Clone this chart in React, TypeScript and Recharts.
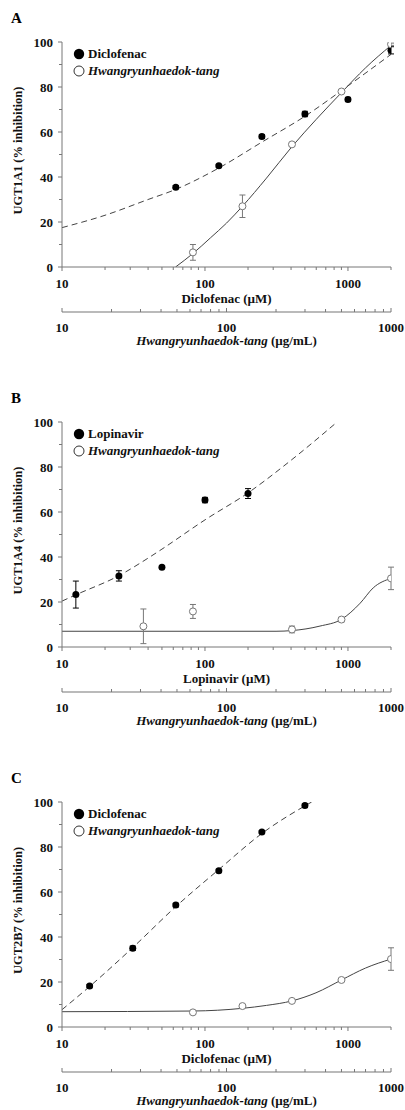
import React from "react";
import { ComposedChart, Line, Scatter, ErrorBar, XAxis, YAxis } from "recharts";

const SERIF = "'Liberation Serif', 'Times New Roman', serif";
const AXIS = "#777";
const HERB = "#777";
const CURVE = "#444";

const drugTicks = [10, 20, 30, 40, 50, 60, 70, 80, 90, 100, 200, 300, 400, 500, 600, 700, 800, 900, 1000, 2000];
const herbTicks = [10, 20, 30, 40, 50, 60, 70, 80, 90, 100, 200, 300, 400, 500, 600, 700, 800, 900, 1000];
const yTicks = [0, 10, 20, 30, 40, 50, 60, 70, 80, 90, 100];
const labelledX = [10, 100, 1000];
const labelledY = [0, 20, 40, 60, 80, 100];

// A: UGT1A1, diclofenac
const diclofenacA = [
  { x: 62.5, y: 35.5, err: 0.7 },
  { x: 125, y: 45, err: 0.6 },
  { x: 250, y: 58, err: 0.9 },
  { x: 500, y: 68, err: 1.2 },
  { x: 1000, y: 74.5, err: 0.9 },
  { x: 2000, y: 96.3, err: 1.6 },
];
const herbA = [
  { x: 62.5, y: 6.5, err: 3.5 },
  { x: 125, y: 27, err: 5 },
  { x: 250, y: 54.5, err: 0.5 },
  { x: 500, y: 78, err: 0.6 },
  { x: 1000, y: 99, err: 0.5 },
];
const diclofenacFitA = [
  { x: 10, y: 17.5 }, { x: 20, y: 23 }, { x: 40, y: 30 }, { x: 62.5, y: 34.5 },
  { x: 125, y: 44 }, { x: 250, y: 55.5 }, { x: 500, y: 67 }, { x: 1000, y: 80.5 }, { x: 2000, y: 94.5 },
];
const herbFitA = [
  { x: 49, y: 0 }, { x: 62.5, y: 6 }, { x: 80, y: 13 }, { x: 100, y: 19.5 }, { x: 125, y: 27 },
  { x: 175, y: 39.5 }, { x: 250, y: 53.5 }, { x: 350, y: 65.5 }, { x: 500, y: 77.5 },
  { x: 700, y: 88.5 }, { x: 1000, y: 98.5 },
];

// B: UGT1A4, lopinavir
const lopinavirB = [
  { x: 12.5, y: 23.3, err: 6 },
  { x: 25, y: 31.6, err: 2.3 },
  { x: 50, y: 35.4, err: 0.5 },
  { x: 100, y: 65.3, err: 1.2 },
  { x: 200, y: 68.2, err: 2.2 },
];
const herbB = [
  { x: 31.25, y: 9.2, err: 7.7 },
  { x: 62.5, y: 15.8, err: 3.1 },
  { x: 250, y: 7.8, err: 1.5 },
  { x: 500, y: 12.2, err: 1 },
  { x: 1000, y: 30.5, err: 5 },
];
const lopinavirFitB = [
  { x: 10, y: 20.4 }, { x: 12.5, y: 23.2 }, { x: 25, y: 31.7 }, { x: 40, y: 39.5 }, { x: 50, y: 43.5 },
  { x: 100, y: 56.5 }, { x: 200, y: 68.5 }, { x: 400, y: 83 }, { x: 840, y: 100 },
];
const herbFitB = [
  { x: 10, y: 7 }, { x: 200, y: 7 }, { x: 250, y: 7.3 }, { x: 370, y: 9.3 }, { x: 500, y: 12.3 },
  { x: 650, y: 19.5 }, { x: 780, y: 26.3 }, { x: 1000, y: 30.5 },
];

// C: UGT2B7, diclofenac
const diclofenacC = [
  { x: 15.6, y: 18.2, err: 0.7 },
  { x: 31.25, y: 35, err: 1 },
  { x: 62.5, y: 54.2, err: 0.8 },
  { x: 125, y: 69.5, err: 0.6 },
  { x: 250, y: 86.7, err: 0.6 },
  { x: 500, y: 98.4, err: 0.8 },
];
const herbC = [
  { x: 62.5, y: 6.5, err: 0.4 },
  { x: 125, y: 9.3, err: 0.5 },
  { x: 250, y: 11.6, err: 0.4 },
  { x: 500, y: 20.9, err: 0.5 },
  { x: 1000, y: 30.2, err: 5 },
];
const diclofenacFitC = [
  { x: 10, y: 7.7 }, { x: 15.6, y: 18 }, { x: 31.25, y: 35.3 }, { x: 62.5, y: 53.5 },
  { x: 125, y: 70 }, { x: 250, y: 86 }, { x: 557, y: 100 },
];
const herbFitC = [
  { x: 10, y: 6.8 }, { x: 62.5, y: 7.1 }, { x: 125, y: 8.3 }, { x: 175, y: 9.6 }, { x: 250, y: 11.6 },
  { x: 350, y: 15.2 }, { x: 500, y: 20.9 }, { x: 700, y: 26.2 }, { x: 1000, y: 30.2 },
];

const bold = { fontFamily: SERIF, fontWeight: 700, fill: "#111" } as const;

function DrugTick(p: any) {
  const v = p.payload.value;
  const major = labelledX.includes(v);
  return (
    <g>
      <line x1={p.x} x2={p.x} y1={p.y} y2={p.y + (major ? 4 : 3)} stroke={AXIS} />
      {major && (
        <text x={p.x} y={p.y + 21} textAnchor="middle" fontSize={13} {...bold}>
          {v}
        </text>
      )}
    </g>
  );
}

function HerbTick(p: any) {
  const v = p.payload.value;
  const major = labelledX.includes(v);
  return (
    <g>
      <line x1={p.x} x2={p.x} y1={p.y} y2={p.y - (major ? 4 : 3)} stroke={AXIS} />
      {major && (
        <text x={p.x} y={p.y + 20} textAnchor="middle" fontSize={13} {...bold}>
          {v}
        </text>
      )}
    </g>
  );
}

function YTick(p: any) {
  const v = p.payload.value;
  const major = labelledY.includes(v);
  return (
    <g>
      <line x1={p.x - (major ? 4 : 3)} x2={p.x} y1={p.y} y2={p.y} stroke={AXIS} />
      {major && (
        <text x={p.x - 9} y={p.y + 4.5} textAnchor="end" fontSize={13} {...bold}>
          {v}
        </text>
      )}
    </g>
  );
}

function DrugTitle(p: any) {
  const vb = p.viewBox;
  return (
    <text x={vb.x + vb.width / 2} y={vb.y + 36} textAnchor="middle" fontSize={13} {...bold}>
      {p.text}
    </text>
  );
}

function HerbTitle(p: any) {
  const vb = p.viewBox;
  return (
    <text x={vb.x + vb.width / 2} y={vb.y + 33} textAnchor="middle" fontSize={13} {...bold}>
      <tspan fontStyle="italic">Hwangryunhaedok-tang</tspan>
      <tspan>{" (µg/mL)"}</tspan>
    </text>
  );
}

function YTitle(p: any) {
  const vb = p.viewBox;
  const cx = vb.x + 8;
  const cy = vb.y + vb.height / 2 - 4;
  return (
    <text x={cx} y={cy} dy={4} textAnchor="middle" fontSize={12.5} transform={`rotate(-90, ${cx}, ${cy})`} {...bold}>
      {p.text}
    </text>
  );
}

const filledDot = (p: any) => <circle cx={p.cx} cy={p.cy} r={3.5} fill="#000" />;
const openDot = (p: any) => <circle cx={p.cx} cy={p.cy} r={3.5} fill="#fff" stroke={HERB} strokeWidth={1} />;

type Pt = { x: number; y: number; err?: number };

function Panel(props: {
  top: number;
  letter: string;
  drug: string;
  gene: string;
  drugPts: Pt[];
  herbPts: Pt[];
  drugFit: Pt[];
  herbFit: Pt[];
}) {
  const { top, letter, drug, gene, drugPts, herbPts, drugFit, herbFit } = props;
  return (
    <div style={{ position: "absolute", left: 0, top, width: 405, height: 350 }}>
      <ComposedChart width={405} height={350} margin={{ top: 42, right: 14, bottom: 0, left: 10 }}>
        <XAxis
          xAxisId="drug"
          dataKey="x"
          type="number"
          scale="log"
          domain={[10, 2000]}
          allowDataOverflow
          ticks={drugTicks}
          interval={0}
          tick={(p: any) => <DrugTick {...p} />}
          tickLine={false}
          tickSize={0}
          tickMargin={0}
          height={45}
          axisLine={{ stroke: AXIS }}
          label={<DrugTitle text={`${drug} (µM)`} />}
        />
        <XAxis
          xAxisId="herb"
          dataKey="x"
          type="number"
          scale="log"
          domain={[10, 1000]}
          allowDataOverflow
          ticks={herbTicks}
          interval={0}
          tick={(p: any) => <HerbTick {...p} />}
          tickLine={false}
          tickSize={0}
          tickMargin={0}
          height={38}
          axisLine={{ stroke: AXIS, strokeWidth: 1.2 }}
          label={<HerbTitle />}
        />
        <YAxis
          dataKey="y"
          type="number"
          domain={[0, 100]}
          allowDataOverflow
          ticks={yTicks}
          interval={0}
          width={52}
          tick={(p: any) => <YTick {...p} />}
          tickLine={false}
          tickSize={0}
          tickMargin={0}
          axisLine={{ stroke: AXIS }}
          label={<YTitle text={`${gene} (% inhibition)`} />}
        />
        <Line
          xAxisId="drug"
          data={drugFit}
          dataKey="y"
          type="monotone"
          stroke={CURVE}
          strokeWidth={1}
          strokeDasharray="6 4"
          dot={false}
          activeDot={false}
          isAnimationActive={false}
        />
        <Line
          xAxisId="herb"
          data={herbFit}
          dataKey="y"
          type="monotone"
          stroke={CURVE}
          strokeWidth={1}
          dot={false}
          activeDot={false}
          isAnimationActive={false}
        />
        <Scatter xAxisId="drug" data={drugPts} dataKey="y" shape={filledDot} isAnimationActive={false}>
          <ErrorBar dataKey="err" direction="y" width={3} stroke="#000" strokeWidth={1} />
        </Scatter>
        <Scatter xAxisId="herb" data={herbPts} dataKey="y" shape={openDot} isAnimationActive={false}>
          <ErrorBar dataKey="err" direction="y" width={3} stroke={HERB} strokeWidth={1} />
        </Scatter>
      </ComposedChart>
      <div
        style={{
          position: "absolute",
          left: 11,
          top: 9,
          fontFamily: SERIF,
          fontWeight: 700,
          fontSize: 15,
          lineHeight: "18px",
        }}
      >
        {letter}
      </div>
      <div
        style={{
          position: "absolute",
          left: 73,
          top: 45,
          fontFamily: SERIF,
          fontWeight: 700,
          fontSize: 13,
          color: "#111",
        }}
      >
        <div style={{ display: "flex", alignItems: "center", height: 17 }}>
          <svg width={12} height={12}>
            <circle cx={6} cy={6} r={5.2} fill="#000" />
          </svg>
          <span style={{ marginLeft: 3 }}>{drug}</span>
        </div>
        <div style={{ display: "flex", alignItems: "center", height: 17 }}>
          <svg width={12} height={12}>
            <circle cx={6} cy={6} r={5} fill="#fff" stroke="#333" strokeWidth={1} />
          </svg>
          <span style={{ marginLeft: 3, fontStyle: "italic" }}>Hwangryunhaedok-tang</span>
        </div>
      </div>
    </div>
  );
}

export default function App() {
  return (
    <div style={{ position: "absolute", left: 0, top: 0, width: 405, height: 1110, background: "#fff", overflow: "hidden" }}>
      <Panel top={0} letter="A" drug="Diclofenac" gene="UGT1A1" drugPts={diclofenacA} herbPts={herbA} drugFit={diclofenacFitA} herbFit={herbFitA} />
      <Panel top={380} letter="B" drug="Lopinavir" gene="UGT1A4" drugPts={lopinavirB} herbPts={herbB} drugFit={lopinavirFitB} herbFit={herbFitB} />
      <Panel top={760} letter="C" drug="Diclofenac" gene="UGT2B7" drugPts={diclofenacC} herbPts={herbC} drugFit={diclofenacFitC} herbFit={herbFitC} />
    </div>
  );
}
